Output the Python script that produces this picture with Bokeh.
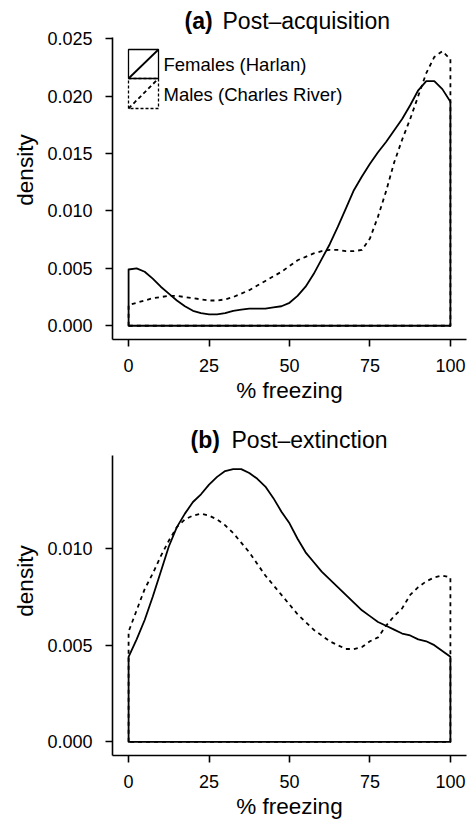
from bokeh.plotting import figure
from bokeh.layouts import column
from bokeh.models import Range1d, FixedTicker, PrintfTickFormatter, Label, BoxAnnotation, Arrow
from bokeh.embed import file_html
from bokeh.resources import INLINE

# ---------------- data ----------------
x_pct = [0, 2.5, 5, 7.5, 10, 12.5, 15, 17.5, 20, 22.5, 25, 27.5, 30, 32.5, 35, 37.5, 40,
         42.5, 45, 47.5, 50, 52.5, 55, 57.5, 60, 62.5, 65, 67.5, 70, 72.5, 75, 77.5, 80,
         82.5, 85, 87.5, 90, 92.5, 95, 97.5, 100]

acq_females = [0.0049, 0.0050, 0.0047, 0.0041, 0.0034, 0.0028, 0.0022, 0.0017, 0.0013, 0.0011,
               0.0010, 0.0010, 0.0011, 0.0013, 0.0014, 0.0015, 0.0015, 0.0015, 0.0016, 0.0017,
               0.0020, 0.0026, 0.0034, 0.0045, 0.0058, 0.0071, 0.0086, 0.0102, 0.0118, 0.0130,
               0.0141, 0.0151, 0.0160, 0.0170, 0.0180, 0.0192, 0.0205, 0.0213, 0.0213, 0.0206,
               0.0195]
acq_males = [0.0018, 0.0020, 0.0022, 0.0024, 0.0025, 0.0026, 0.0026, 0.0025, 0.0024, 0.0023,
             0.0022, 0.0022, 0.0023, 0.0025, 0.0028, 0.0031, 0.0035, 0.0039, 0.0043, 0.0047,
             0.0052, 0.0057, 0.0060, 0.0063, 0.0065, 0.0066, 0.0066, 0.0065, 0.0065, 0.0066,
             0.0076, 0.0095, 0.0117, 0.0142, 0.0162, 0.0180, 0.0200, 0.0220, 0.0234, 0.0239,
             0.0232]

ext_females = [0.0044, 0.0053, 0.0063, 0.0075, 0.0088, 0.0101, 0.0111, 0.0118, 0.0124, 0.0128,
               0.0133, 0.0137, 0.0140, 0.0141, 0.0141, 0.0139, 0.0136, 0.0132, 0.0126, 0.0119,
               0.0113, 0.0105, 0.0098, 0.0093, 0.0088, 0.0084, 0.0080, 0.0076, 0.0072, 0.0068,
               0.0065, 0.0062, 0.0060, 0.0058, 0.0056, 0.0055, 0.0053, 0.0052, 0.0050, 0.0047,
               0.0044]
ext_males = [0.0057, 0.0068, 0.0079, 0.0087, 0.0096, 0.0104, 0.0111, 0.0115, 0.0117, 0.0118,
             0.0117, 0.0115, 0.0112, 0.0108, 0.0103, 0.0098, 0.0092, 0.0086, 0.0081, 0.0076,
             0.0071, 0.0066, 0.0062, 0.0058, 0.0055, 0.0052, 0.0050, 0.0048, 0.0048, 0.0049,
             0.0052, 0.0054, 0.0060, 0.0065, 0.0069, 0.0076, 0.0080, 0.0083, 0.0085, 0.0086,
             0.0085]

x_ticks = [0, 25, 50, 75, 100]
y_ticks_acq = [0.000, 0.005, 0.010, 0.015, 0.020, 0.025]
y_ticks_ext = [0.000, 0.005, 0.010]
legend_labels = ["Females (Harlan)", "Males (Charles River)"]
panel_tags = ["(a)", "(b)"]
panel_names = ["Post–acquisition", "Post–extinction"]
x_label = "% freezing"
y_label = "density"

FONT = "Liberation Sans"
BOTTOM = 67


def make_panel(fem, male, yticks, tag, name, height, data_px, title_y, tag_x, name_x,
               legend=False):
    # ggplot-like 5% expansion of the data range
    ymax = max(max(fem), max(male))
    pad = 0.05 * ymax
    lo, hi = -pad, ymax + pad
    frame_px = height - BOTTOM
    # frame also holds the panel title above the data area
    top = lo + (hi - lo) * frame_px / data_px

    p = figure(width=468, height=height, output_backend="svg", toolbar_location=None,
               x_range=Range1d(-5, 105), y_range=Range1d(lo, top),
               min_border_left=112, min_border_right=2, min_border_top=0,
               min_border_bottom=BOTTOM)
    p.outline_line_color = None
    p.xgrid.visible = False
    p.ygrid.visible = False
    p.background_fill_color = "white"
    p.border_fill_color = "white"

    for vals, dash in ((fem, "solid"), (male, "4 4")):
        xs = [x_pct[0]] + x_pct + [x_pct[-1]]
        ys = [0] + vals + [0]
        p.patch(xs, ys, fill_color=None, line_color="black", line_width=1.8, line_dash=dash,
                line_join="round")

    for ax in (p.xaxis[0], p.yaxis[0]):
        ax.axis_line_width = 1.6
        ax.axis_line_color = "black"
        ax.major_tick_line_width = 1.6
        ax.major_tick_line_color = "black"
        ax.major_tick_out = 7
        ax.major_tick_in = 0
        ax.minor_tick_line_color = None
        ax.major_label_text_font = FONT
        ax.major_label_text_font_size = "18px"
        ax.major_label_text_color = "black"
        ax.axis_label_text_font = FONT
        ax.axis_label_text_font_size = "22.5px"
        ax.axis_label_text_font_style = "normal"
        ax.axis_label_text_color = "black"

    p.xaxis.ticker = FixedTicker(ticks=x_ticks)
    p.xaxis.axis_label = x_label
    p.xaxis.major_label_standoff = 12
    p.xaxis.axis_label_standoff = 3
    p.yaxis.ticker = FixedTicker(ticks=yticks)
    p.yaxis.formatter = PrintfTickFormatter(format="%.3f")
    p.yaxis.axis_label = y_label
    p.yaxis.major_label_standoff = 13
    p.yaxis.axis_label_standoff = 6
    p.yaxis.bounds = (lo, hi)

    p.add_layout(Label(x=tag_x, y=title_y, x_units="screen", y_units="screen", text=tag,
                       text_font=FONT, text_font_size="23px", text_font_style="bold",
                       text_baseline="middle", text_align="left", text_color="black"))
    p.add_layout(Label(x=name_x, y=title_y, x_units="screen", y_units="screen", text=name,
                       text_font=FONT, text_font_size="23px", text_font_style="normal",
                       text_baseline="middle", text_align="left", text_color="black"))

    if legend:
        keys = [(290, 261, "solid", "solid"), (261, 231, "3 2", "4 3")]
        for (ktop, kbot, box_dash, diag_dash), lab in zip(keys, legend_labels):
            p.add_layout(BoxAnnotation(left=16, right=46, top=ktop, bottom=kbot,
                                       left_units="screen", right_units="screen",
                                       top_units="screen", bottom_units="screen",
                                       fill_alpha=0, fill_color=None, line_color="black",
                                       line_alpha=1.0, line_width=1.3, line_dash=box_dash))
            p.add_layout(Arrow(end=None, x_start=16, y_start=kbot, x_end=46, y_end=ktop,
                               start_units="screen", end_units="screen",
                               line_color="black", line_width=1.8, line_dash=diag_dash))
            p.add_layout(Label(x=51, y=(ktop + kbot) / 2 - 0.5, x_units="screen",
                               y_units="screen", text=lab, text_font=FONT,
                               text_font_size="18.5px", text_baseline="middle",
                               text_align="left", text_color="black"))
    return p


pa = make_panel(acq_females, acq_males, y_ticks_acq, panel_tags[0], panel_names[0],
                height=406, data_px=302, title_y=319, tag_x=72, name_x=110, legend=True)
pb = make_panel(ext_females, ext_males, y_ticks_ext, panel_tags[1], panel_names[1],
                height=416, data_px=300, title_y=316, tag_x=78, name_x=119)

layout = column(pa, pb, spacing=0)
open("out.html", "w").write(file_html(layout, INLINE))
